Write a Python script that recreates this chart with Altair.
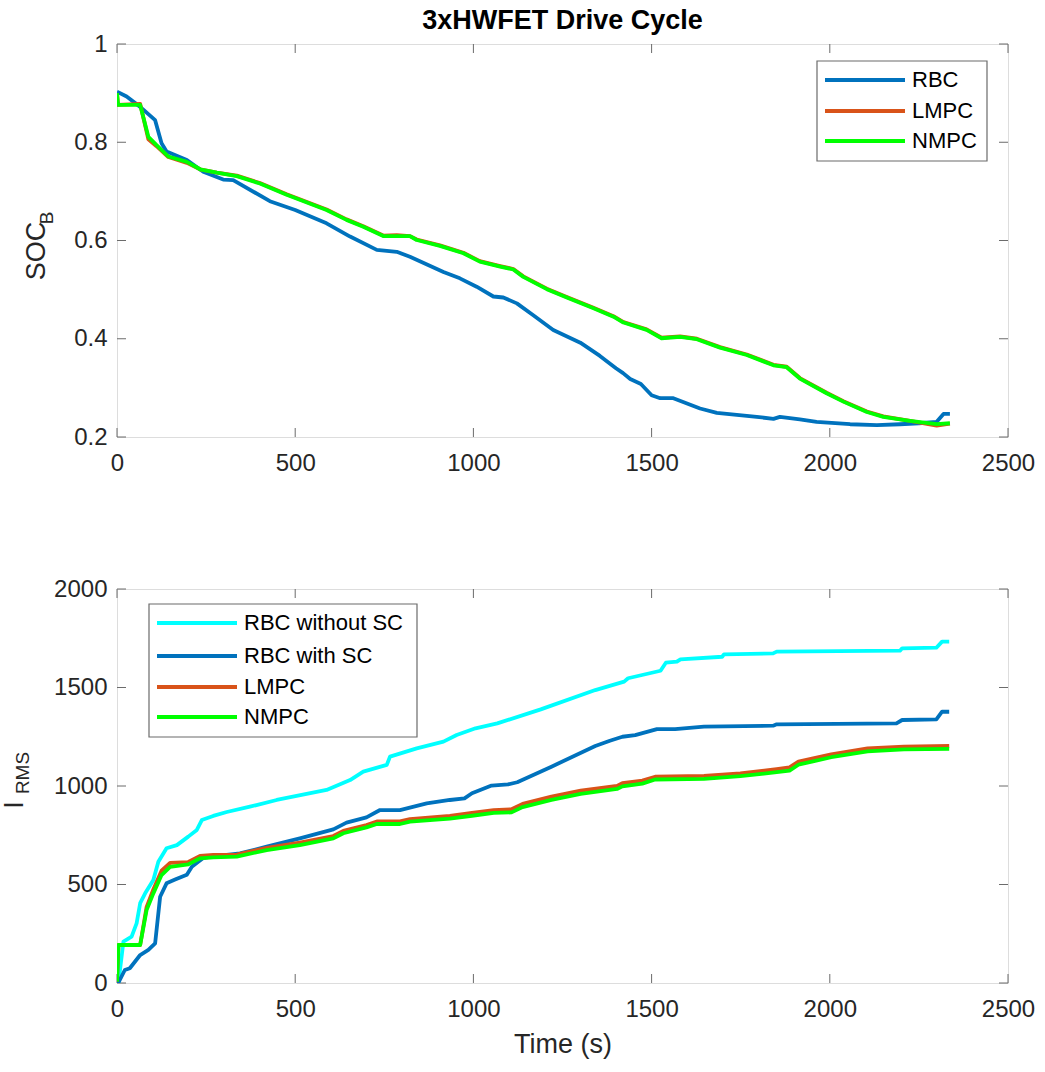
import altair as alt
import pandas as pd

# ---- State of charge of the battery (3xHWFET) ----
soc_t_rbc = [0, 27, 65, 107, 125, 139, 196, 242, 298, 326, 429, 500, 588, 654, 729, 785,
             822, 916, 962, 1009, 1056, 1084, 1122, 1168, 1224, 1300, 1355, 1400, 1420, 1440,
             1470, 1500, 1524, 1561, 1636, 1683, 1739, 1795, 1842, 1860, 1916, 1963, 2057,
             2132, 2197, 2250, 2300, 2319, 2337]
soc_rbc = [0.903, 0.893, 0.872, 0.845, 0.798, 0.781, 0.764, 0.740, 0.724, 0.723, 0.680, 0.662,
           0.635, 0.608, 0.581, 0.577, 0.567, 0.536, 0.523, 0.506, 0.486, 0.484, 0.472, 0.448,
           0.418, 0.392, 0.365, 0.340, 0.330, 0.318, 0.308, 0.285, 0.279, 0.279, 0.258, 0.249,
           0.245, 0.241, 0.237, 0.241, 0.236, 0.231, 0.226, 0.224, 0.226, 0.228, 0.231, 0.247,
           0.247]

soc_t_mpc = [0, 3, 65, 88, 111, 144, 196, 233, 280, 336, 401, 476, 588, 644, 691, 747, 785,
             822, 841, 906, 972, 1018, 1075, 1112, 1140, 1206, 1262, 1337, 1393, 1421, 1486,
             1528, 1580, 1627, 1692, 1767, 1842, 1879, 1916, 1991, 2038, 2104, 2150, 2225,
             2300, 2337]
soc_lmpc = [0.900, 0.876, 0.878, 0.806, 0.792, 0.770, 0.758, 0.745, 0.738, 0.732, 0.717, 0.694,
            0.663, 0.643, 0.629, 0.610, 0.611, 0.609, 0.602, 0.590, 0.575, 0.558, 0.548, 0.542,
            0.527, 0.502, 0.485, 0.463, 0.446, 0.434, 0.419, 0.402, 0.405, 0.400, 0.383, 0.368,
            0.347, 0.343, 0.320, 0.290, 0.273, 0.252, 0.242, 0.233, 0.223, 0.227]
soc_nmpc = [0.900, 0.876, 0.876, 0.811, 0.794, 0.771, 0.760, 0.745, 0.738, 0.731, 0.716, 0.693,
            0.662, 0.642, 0.628, 0.609, 0.609, 0.609, 0.601, 0.589, 0.574, 0.557, 0.547, 0.541,
            0.526, 0.501, 0.484, 0.462, 0.445, 0.433, 0.418, 0.401, 0.404, 0.399, 0.382, 0.367,
            0.346, 0.342, 0.319, 0.289, 0.272, 0.251, 0.241, 0.233, 0.226, 0.228]

# ---- Cumulative RMS battery current ----
irms_t_nosc = [0, 4, 18, 41, 55, 65, 79, 102, 116, 139, 168, 200, 224, 238, 270, 308, 373, 448,
               588, 654, 691, 757, 766, 841, 916, 953, 1006, 1067, 1189, 1342, 1423, 1434, 1525,
               1540, 1571, 1581, 1698, 1703, 1841, 1851, 2197, 2203, 2299, 2315, 2335]
irms_nosc = [0, 0, 210, 235, 303, 405, 455, 523, 616, 684, 700, 743, 777, 827, 848, 868, 895,
             929, 980, 1030, 1073, 1107, 1149, 1191, 1225, 1259, 1293, 1318, 1389, 1487, 1530,
             1547, 1585, 1626, 1631, 1643, 1656, 1668, 1673, 1682, 1687, 1699, 1702, 1733, 1733]

irms_t_rbc = [0, 4, 22, 36, 65, 88, 107, 121, 139, 163, 196, 210, 228, 242, 270, 345, 420, 513,
              607, 644, 700, 738, 794, 869, 934, 975, 996, 1051, 1097, 1123, 1219, 1342, 1383,
              1418, 1454, 1515, 1566, 1647, 1841, 1851, 2187, 2203, 2299, 2315, 2335]
irms_rbc = [0, 2, 66, 75, 142, 168, 201, 438, 506, 525, 550, 590, 615, 635, 643, 658, 692, 734,
            780, 814, 841, 878, 878, 912, 929, 937, 963, 1002, 1008, 1019, 1098, 1203, 1230,
            1250, 1258, 1289, 1289, 1301, 1306, 1313, 1318, 1335, 1338, 1377, 1377]

irms_t_mpc = [0, 4, 65, 83, 102, 125, 149, 200, 233, 270, 336, 420, 513, 607, 635, 700, 729,
              794, 822, 934, 996, 1057, 1107, 1138, 1219, 1301, 1403, 1418, 1474, 1510, 1647,
              1749, 1851, 1887, 1912, 2004, 2106, 2208, 2335]
irms_lmpc = [7, 193, 193, 385, 475, 570, 610, 614, 645, 650, 652, 686, 712, 746, 772, 802, 820,
             820, 832, 848, 864, 878, 882, 909, 946, 976, 1000, 1014, 1027, 1047, 1051, 1064,
             1086, 1095, 1124, 1161, 1191, 1200, 1203]
irms_nmpc = [7, 193, 193, 370, 455, 548, 590, 602, 633, 638, 641, 675, 700, 734, 760, 790, 807,
             807, 819, 834, 849, 864, 866, 893, 930, 960, 985, 998, 1012, 1033, 1036, 1050,
             1070, 1078, 1108, 1146, 1176, 1186, 1188]

# ---- Legends ----
soc_names = ["RBC", "LMPC", "NMPC"]
soc_colors = ["#0072BD", "#D95319", "#00FF00"]
irms_names = ["RBC without SC", "RBC with SC", "LMPC", "NMPC"]
irms_colors = ["#00FFFF", "#0072BD", "#D95319", "#00FF00"]

x_ticks = [0, 500, 1000, 1500, 2000, 2500]
soc_ticks = [0.2, 0.4, 0.6, 0.8, 1.0]
irms_ticks = [0, 500, 1000, 1500, 2000]

W, H_TOP, H_BOT = 891, 393, 394
FONT = "Liberation Sans"
FRAME = "#6b6b6b"
TEXT = "#262626"
TICK_LEN = 9
LW = 3.8


def series_layer(t, v, color, xs, ys):
    df = pd.DataFrame({"t": t, "v": v})
    return alt.Chart(df).mark_line(color=color, strokeWidth=LW, strokeJoin="round",
                                   strokeCap="butt", clip=True).encode(
        x=alt.X("t:Q", scale=xs), y=alt.Y("v:Q", scale=ys))


def tick_layers(xs, ys, yvals, h):
    xt = pd.DataFrame({"t": x_ticks})
    yt = pd.DataFrame({"v": yvals})
    base_x = alt.Chart(xt).mark_rule(color=FRAME, strokeWidth=1)
    base_y = alt.Chart(yt).mark_rule(color=FRAME, strokeWidth=1)
    return [
        base_x.encode(x=alt.X("t:Q", scale=xs), y=alt.value(0), y2=alt.value(TICK_LEN)),
        base_x.encode(x=alt.X("t:Q", scale=xs), y=alt.value(h - TICK_LEN), y2=alt.value(h)),
        base_y.encode(y=alt.Y("v:Q", scale=ys), x=alt.value(0), x2=alt.value(TICK_LEN)),
        base_y.encode(y=alt.Y("v:Q", scale=ys), x=alt.value(W - TICK_LEN), x2=alt.value(W)),
    ]


def legend_layers(names, colors, box, rows, line_x, text_x):
    one = pd.DataFrame({"k": [0]})
    layers = [alt.Chart(one).mark_rect(fill="white", stroke=FRAME, strokeWidth=1.2).encode(
        x=alt.value(box[0]), x2=alt.value(box[1]), y=alt.value(box[2]), y2=alt.value(box[3]))]
    for name, color, ry in zip(names, colors, rows):
        layers.append(alt.Chart(one).mark_rule(color=color, strokeWidth=LW).encode(
            x=alt.value(line_x[0]), x2=alt.value(line_x[1]), y=alt.value(ry)))
        layers.append(alt.Chart(one).mark_text(
            text=name, align="left", baseline="middle", font=FONT, fontSize=22, color="black"
        ).encode(x=alt.value(text_x), y=alt.value(ry)))
    return layers


def ylabel_layers(main, sub, main_xy, sub_xy):
    one = pd.DataFrame({"k": [0]})
    return [
        alt.Chart(one).mark_text(text=main, angle=270, align="center", baseline="middle",
                                 font=FONT, fontSize=27, color=TEXT).encode(
            x=alt.value(main_xy[0]), y=alt.value(main_xy[1])),
        alt.Chart(one).mark_text(text=sub, angle=270, align="center", baseline="middle",
                                 font=FONT, fontSize=19, color=TEXT).encode(
            x=alt.value(sub_xy[0]), y=alt.value(sub_xy[1])),
    ]


axis_common = dict(grid=False, ticks=False, domain=False, labelFlush=False, labelFont=FONT,
                   labelFontSize=24, labelColor=TEXT, titleFont=FONT, titleColor=TEXT)

# Top panel: SOC
xs_top = alt.Scale(domain=[0, 2500], nice=False)
ys_top = alt.Scale(domain=[0.2, 1.0], nice=False)
top_axes = alt.Chart(pd.DataFrame({"t": [0], "v": [0.2]})).mark_point(opacity=0).encode(
    x=alt.X("t:Q", scale=xs_top, title=None,
            axis=alt.Axis(values=x_ticks, format="d", labelPadding=14, **axis_common)),
    y=alt.Y("v:Q", scale=ys_top, title=None,
            axis=alt.Axis(values=soc_ticks, format="~g", labelPadding=10, **axis_common)))

top = alt.layer(
    top_axes,
    *tick_layers(xs_top, ys_top, soc_ticks, H_TOP),
    series_layer(soc_t_rbc, soc_rbc, soc_colors[0], xs_top, ys_top),
    series_layer(soc_t_mpc, soc_lmpc, soc_colors[1], xs_top, ys_top),
    series_layer(soc_t_mpc, soc_nmpc, soc_colors[2], xs_top, ys_top),
    *legend_layers(soc_names, soc_colors, (700, 870, 17, 117), (36, 67, 97), (708, 788), 795),
    *ylabel_layers("SOC", "B", (-80, 207), (-70, 174)),
).properties(
    width=W, height=H_TOP,
    title=alt.TitleParams("3xHWFET Drive Cycle", font=FONT, fontSize=27, fontWeight="bold",
                          color="black", anchor="middle", offset=-3),
)

# Bottom panel: RMS current
xs_bot = alt.Scale(domain=[0, 2500], nice=False)
ys_bot = alt.Scale(domain=[0, 2000], nice=False)
bot_axes = alt.Chart(pd.DataFrame({"t": [0], "v": [0]})).mark_point(opacity=0).encode(
    x=alt.X("t:Q", scale=xs_bot, title="Time (s)",
            axis=alt.Axis(values=x_ticks, format="d", labelPadding=14, titleFontSize=27,
                          titleFontWeight="normal", titlePadding=10, **axis_common)),
    y=alt.Y("v:Q", scale=ys_bot, title=None,
            axis=alt.Axis(values=irms_ticks, format="d", labelPadding=10, **axis_common)))

bottom = alt.layer(
    bot_axes,
    *tick_layers(xs_bot, ys_bot, irms_ticks, H_BOT),
    series_layer(irms_t_nosc, irms_nosc, irms_colors[0], xs_bot, ys_bot),
    series_layer(irms_t_rbc, irms_rbc, irms_colors[1], xs_bot, ys_bot),
    series_layer(irms_t_mpc, irms_lmpc, irms_colors[2], xs_bot, ys_bot),
    series_layer(irms_t_mpc, irms_nmpc, irms_colors[3], xs_bot, ys_bot),
    *legend_layers(irms_names, irms_colors, (32, 300, 15, 148), (34, 67, 98, 128), (40, 120), 127),
    *ylabel_layers("I", "RMS", (-102, 216), (-94, 184)),
).properties(width=W, height=H_BOT)

chart = alt.vconcat(top, bottom, spacing=152, bounds="flush").properties(
    padding={"left": 0, "top": 6, "right": 5, "bottom": 5}
).configure_view(stroke=FRAME, strokeWidth=1.2).configure(background="white")

chart.save("out.html", embed_options={"renderer": "svg", "actions": False})
